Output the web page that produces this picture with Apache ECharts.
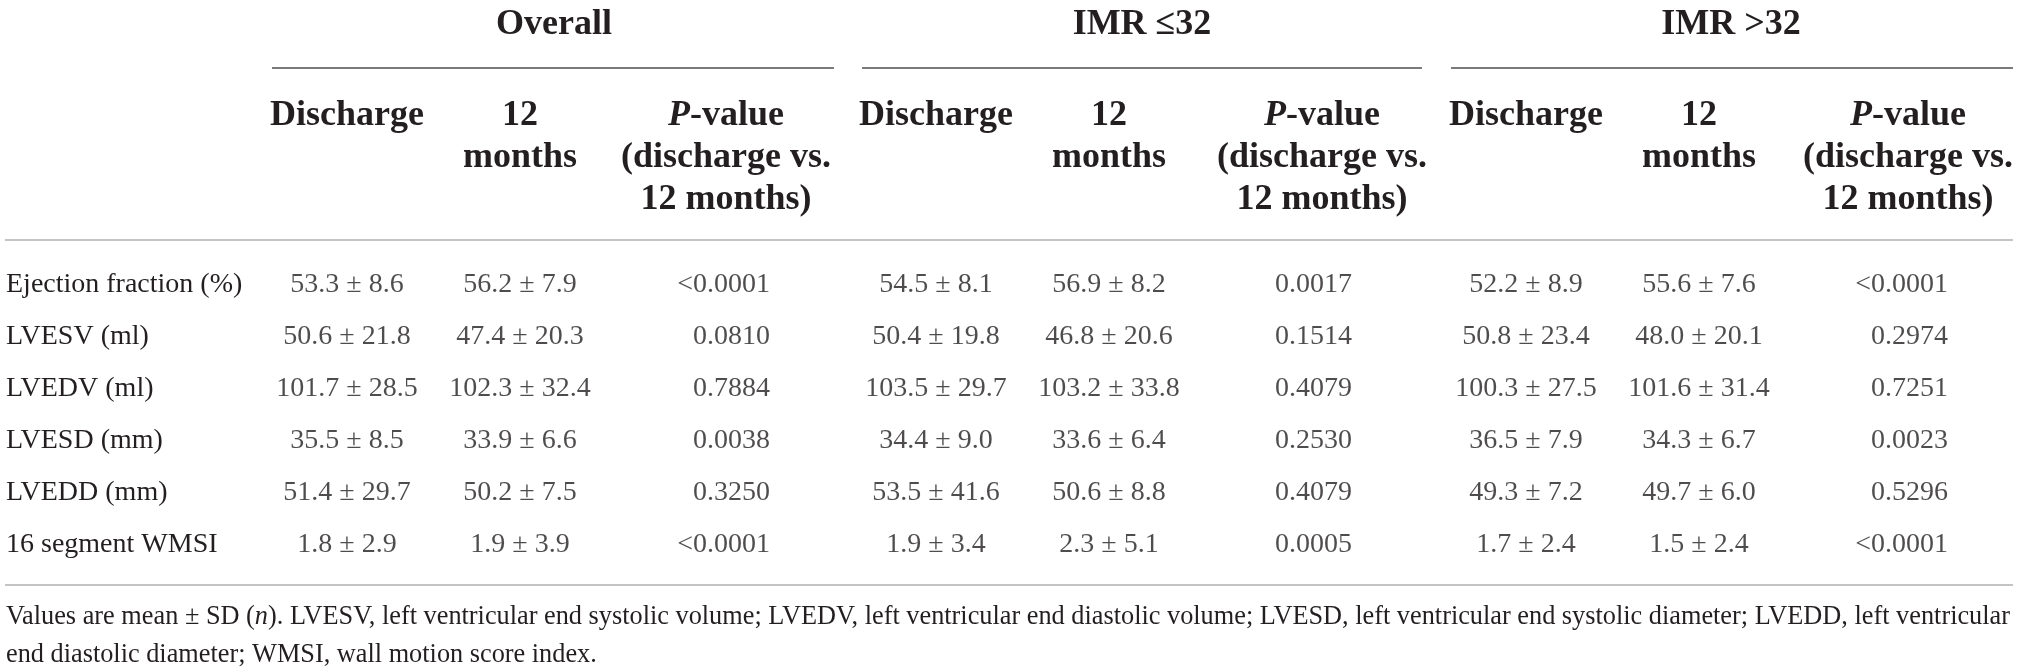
<!DOCTYPE html>
<html>
<head>
<meta charset="utf-8">
<script src="https://cdn.jsdelivr.net/npm/echarts@6/dist/echarts.min.js"></script>
<style>
html, body { margin: 0; padding: 0; background: #fff; }
#ech { width: 2019px; height: 672px; }
</style>
</head>
<body>
<div id="ech"></div>
<script>
// table rows
var rowLabels = ['Ejection fraction (%)', 'LVESV (ml)', 'LVEDV (ml)', 'LVESD (mm)', 'LVEDD (mm)', '16 segment WMSI'];

// Overall
var allDisMean = [53.3, 50.6, 101.7, 35.5, 51.4, 1.8];
var allDisSd = [8.6, 21.8, 28.5, 8.5, 29.7, 2.9];
var all12Mean = [56.2, 47.4, 102.3, 33.9, 50.2, 1.9];
var all12Sd = [7.9, 20.3, 32.4, 6.6, 7.5, 3.9];
var allP = ['<0.0001', '0.0810', '0.7884', '0.0038', '0.3250', '<0.0001'];

// IMR <= 32
var lowDisMean = [54.5, 50.4, 103.5, 34.4, 53.5, 1.9];
var lowDisSd = [8.1, 19.8, 29.7, 9.0, 41.6, 3.4];
var low12Mean = [56.9, 46.8, 103.2, 33.6, 50.6, 2.3];
var low12Sd = [8.2, 20.6, 33.8, 6.4, 8.8, 5.1];
var lowP = ['0.0017', '0.1514', '0.4079', '0.2530', '0.4079', '0.0005'];

// IMR > 32
var highDisMean = [52.2, 50.8, 100.3, 36.5, 49.3, 1.7];
var highDisSd = [8.9, 23.4, 27.5, 7.9, 7.2, 2.4];
var high12Mean = [55.6, 48.0, 101.6, 34.3, 49.7, 1.5];
var high12Sd = [7.6, 20.1, 31.4, 6.7, 6.0, 2.4];
var highP = ['<0.0001', '0.2974', '0.7251', '0.0023', '0.5296', '<0.0001'];

var groupNames = ['Overall', 'IMR \u226432', 'IMR >32'];
var footLines = [
	'Values are mean \u00b1 SD ({i|n}). LVESV, left ventricular end systolic volume; LVEDV, left ventricular end diastolic volume; LVESD, left ventricular end systolic diameter; LVEDD, left ventricular',
	'end diastolic diameter; WMSI, wall motion score index.'
];

var serif = '"Liberation Serif", "DejaVu Serif", serif';
var ink = '#231f20';

function pm(means, sds) {
	return means.map(function(m, i) {
		return m.toFixed(1) + ' \u00b1 ' + sds[i].toFixed(1);
	});
}

// one text column of the body, placed on the x scale and the row axis
function column(x, texts, align) {
	return {
		type : 'scatter',
		silent : true,
		symbolSize : 1,
		itemStyle : { color : 'transparent' },
		label : {
			show : true,
			position : 'inside',
			align : align,
			verticalAlign : 'middle',
			color : ink,
			fontFamily : serif,
			fontSize : 28,
			formatter : function(p) { return p.value[2]; }
		},
		data : texts.map(function(t, i) { return [x, i, t]; })
	};
}

function hText(x, y, text, size) {
	return {
		type : 'text',
		silent : true,
		style : {
			x : x, y : y, text : text,
			fill : ink, fontFamily : serif, fontSize : size, fontWeight : 'bold',
			align : 'center', verticalAlign : 'middle', lineHeight : 42,
			rich : {
				i : { fontStyle : 'italic', fontWeight : 'bold', fontFamily : serif, fontSize : size, fill : ink, lineHeight : 42 }
			}
		}
	};
}

function hLine(x1, x2, y, color) {
	return { type : 'line', silent : true, shape : { x1 : x1, y1 : y, x2 : x2, y2 : y }, style : { stroke : color, lineWidth : 2 } };
}

function show() {
	var myChart = echarts.init(document.getElementById('ech'));

	var groupX = [554, 1142, 1731];
	var disX = [347, 936, 1526];
	var monX = [520, 1109, 1699];
	var pHeadX = [726, 1322, 1908];

	var graphics = [];
	groupNames.forEach(function(g, k) {
		graphics.push(hText(groupX[k], 25, g, 36));
		graphics.push(hText(disX[k], 116, 'Discharge', 36));
		graphics.push(hText(monX[k], 137, '12\nmonths', 36));
		graphics.push(hText(pHeadX[k], 158, '{i|P}-value\n(discharge vs.\n12 months)', 36));
	});
	graphics.push(hLine(272, 834, 68, '#7a7a7a'));
	graphics.push(hLine(862, 1422, 68, '#7a7a7a'));
	graphics.push(hLine(1451, 2013, 68, '#7a7a7a'));
	graphics.push(hLine(5, 2013, 240, '#c4c4c4'));
	graphics.push(hLine(5, 2013, 585, '#c4c4c4'));
	footLines.forEach(function(t, k) {
		graphics.push({
			type : 'text', silent : true,
			style : {
				x : 6, y : 617 + k * 38, text : t,
				fill : ink, fontFamily : serif, fontSize : 26.3,
				align : 'left', verticalAlign : 'middle',
				rich : { i : { fontStyle : 'italic', fontFamily : serif, fontSize : 26.3, fill : ink } }
			}
		});
	});

	var option = {
		backgroundColor : '#fff',
		animation : false,
		grid : { left : 0, right : 0, top : 259, bottom : 101 },
		xAxis : { type : 'value', min : 0, max : 2019, show : false },
		yAxis : {
			type : 'category',
			inverse : true,
			data : rowLabels,
			axisLine : { show : false },
			axisTick : { show : false },
			splitLine : { show : false },
			axisLabel : {
				inside : true,
				align : 'left',
				margin : 6,
				color : ink,
				fontFamily : serif,
				fontSize : 28
			}
		},
		series : [
			column(disX[0], pm(allDisMean, allDisSd), 'center'),
			column(monX[0], pm(all12Mean, all12Sd), 'center'),
			column(770, allP, 'right'),
			column(disX[1], pm(lowDisMean, lowDisSd), 'center'),
			column(monX[1], pm(low12Mean, low12Sd), 'center'),
			column(1352, lowP, 'right'),
			column(disX[2], pm(highDisMean, highDisSd), 'center'),
			column(monX[2], pm(high12Mean, high12Sd), 'center'),
			column(1948, highP, 'right')
		],
		graphic : graphics
	};

	myChart.setOption(option);
}
show();
</script>
</body>
</html>
